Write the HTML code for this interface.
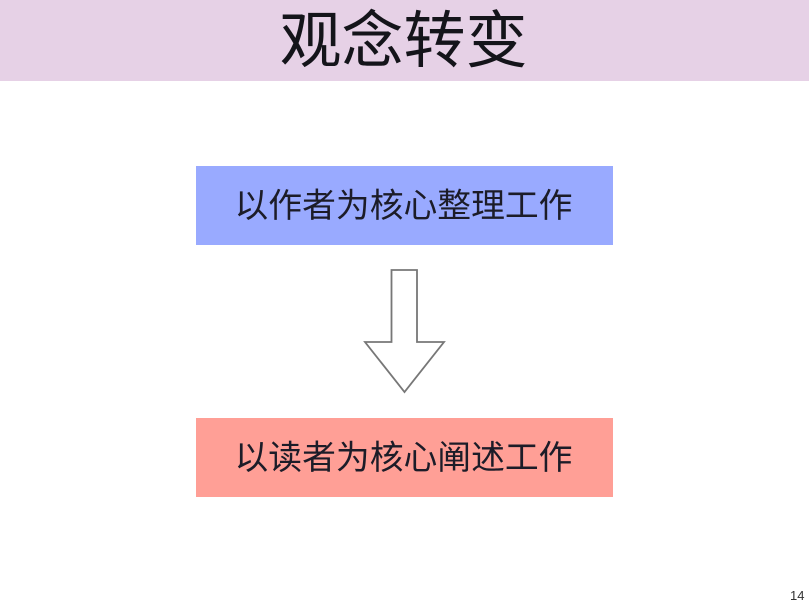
<!DOCTYPE html>
<html lang="zh">
<head>
<meta charset="utf-8">
<title>观念转变</title>
<style>
html,body{margin:0;padding:0;background:#fff;}
#s{position:relative;width:809px;height:607px;overflow:hidden;background:#fff;font-family:"Liberation Sans","Noto Sans CJK SC",sans-serif;color:#111;}
.hd{position:absolute;left:0;top:0;width:809px;height:81px;background:#e6d1e6;}
.t{position:absolute;left:0;width:809px;text-align:center;white-space:nowrap;}
.title{top:4px;left:-1px;font-size:62px;line-height:76px;color:#14141a;}
.box{position:absolute;left:196px;width:417px;height:79px;}
.b1{top:166px;background:#99aaff;}
.b2{top:418px;background:#ff9f96;}
.lbl{left:-1px;font-size:33.8px;line-height:40px;color:#1c1c28;}
.n{position:absolute;left:790px;top:589px;font-size:13px;line-height:14px;color:#333;}
svg{position:absolute;left:0;top:0;}
</style>
</head>
<body>
<div id="s">
<div class="hd"></div>
<div class="t title">观念转变</div>
<div class="box b1"></div>
<div class="t lbl" style="top:186px">以作者为核心整理工作</div>
<svg width="809" height="607" viewBox="0 0 809 607"><polygon points="391.5,270 417,270 417,342 444,342 404.5,392 365,342 391.5,342" fill="#fff" stroke="#777" stroke-width="1.8"/></svg>
<div class="box b2"></div>
<div class="t lbl" style="top:438px">以读者为核心阐述工作</div>
<div class="n">14</div>
</div>
</body>
</html>
